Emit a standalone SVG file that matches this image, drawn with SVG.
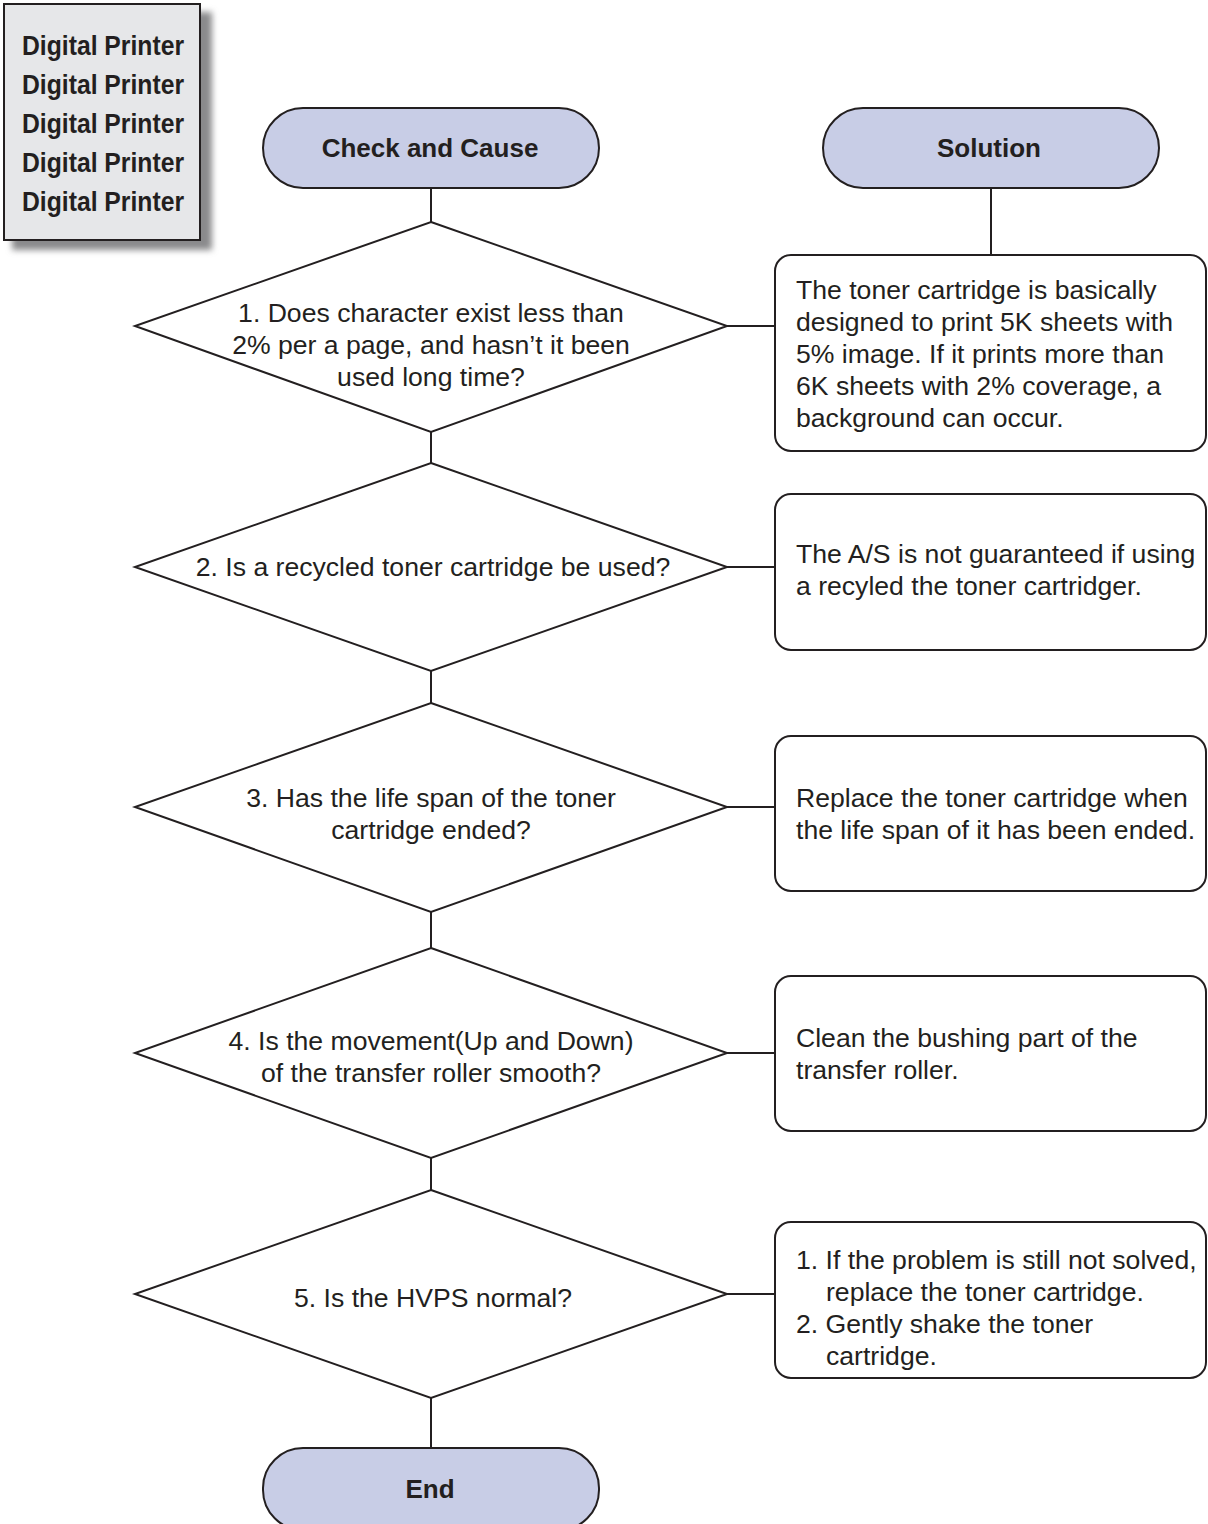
<svg xmlns="http://www.w3.org/2000/svg" width="1208" height="1524" viewBox="0 0 1208 1524">
<defs>
<filter id="blur" x="-20%" y="-20%" width="140%" height="140%"><feGaussianBlur stdDeviation="3"/></filter>
<style>
.ln{stroke:#231f20;stroke-width:2;fill:none}
.pill{fill:#c8cde6;stroke:#231f20;stroke-width:2}
.dia{fill:#fff;stroke:#231f20;stroke-width:2}
.box{fill:#fff;stroke:#231f20;stroke-width:2}
.t{font-family:"Liberation Sans",Arial,sans-serif;font-size:26.6px;fill:#231f20}
.c{text-anchor:middle}
.b{font-weight:bold;font-size:26px}
.dp{font-family:"Liberation Sans",Arial,sans-serif;font-weight:bold;font-size:27px;fill:#231f20}
</style>
</defs>
<rect width="1208" height="1524" fill="#fff"/>
<g id="logo">
<rect x="12" y="12" width="200" height="238" fill="#8a8a8c" filter="url(#blur)"/>
<rect x="4" y="4" width="196" height="236" fill="#e6e7e9" stroke="#231f20" stroke-width="2"/>
<text class="dp" x="22" y="55" textLength="162" lengthAdjust="spacingAndGlyphs">Digital Printer</text>
<text class="dp" x="22" y="94" textLength="162" lengthAdjust="spacingAndGlyphs">Digital Printer</text>
<text class="dp" x="22" y="133" textLength="162" lengthAdjust="spacingAndGlyphs">Digital Printer</text>
<text class="dp" x="22" y="172" textLength="162" lengthAdjust="spacingAndGlyphs">Digital Printer</text>
<text class="dp" x="22" y="211" textLength="162" lengthAdjust="spacingAndGlyphs">Digital Printer</text>
</g>
<g id="connectors">
<line class="ln" x1="431" y1="188" x2="431" y2="222"/>
<line class="ln" x1="991" y1="188" x2="991" y2="255"/>
<line class="ln" x1="727" y1="326" x2="775" y2="326"/>
<line class="ln" x1="431" y1="432" x2="431" y2="463"/>
<line class="ln" x1="727" y1="567" x2="775" y2="567"/>
<line class="ln" x1="431" y1="671" x2="431" y2="703"/>
<line class="ln" x1="727" y1="807" x2="775" y2="807"/>
<line class="ln" x1="431" y1="912" x2="431" y2="948"/>
<line class="ln" x1="727" y1="1053" x2="775" y2="1053"/>
<line class="ln" x1="431" y1="1158" x2="431" y2="1190"/>
<line class="ln" x1="727" y1="1294" x2="775" y2="1294"/>
<line class="ln" x1="431" y1="1398" x2="431" y2="1448"/>
</g>
<g id="start">
<rect class="pill" x="263" y="108" width="336" height="80" rx="40"/>
<text class="t b c" x="430" y="157">Check and Cause</text>
</g>
<g id="solution">
<rect class="pill" x="823" y="108" width="336" height="80" rx="40"/>
<text class="t b c" x="989" y="157">Solution</text>
</g>
<g id="q1">
<polygon class="dia" points="431,222 727,326 431,432 135,326"/>
<text class="t c" x="431" y="322">1. Does character exist less than</text>
<text class="t c" x="431" y="354">2% per a page, and hasn’t it been</text>
<text class="t c" x="431" y="386">used long time?</text>
</g>
<g id="s1">
<rect class="box" x="775" y="255" width="431" height="196" rx="16"/>
<text class="t" x="796" y="299">The toner cartridge is basically</text>
<text class="t" x="796" y="331">designed to print 5K sheets with</text>
<text class="t" x="796" y="363">5% image. If it prints more than</text>
<text class="t" x="796" y="395">6K sheets with 2% coverage, a</text>
<text class="t" x="796" y="427">background can occur.</text>
</g>
<g id="q2">
<polygon class="dia" points="431,463 727,567 431,671 135,567"/>
<text class="t c" x="433" y="576">2. Is a recycled toner cartridge be used?</text>
</g>
<g id="s2">
<rect class="box" x="775" y="494" width="431" height="156" rx="16"/>
<text class="t" x="796" y="563">The A/S is not guaranteed if using</text>
<text class="t" x="796" y="595">a recyled the toner cartridger.</text>
</g>
<g id="q3">
<polygon class="dia" points="431,703 727,807 431,912 135,807"/>
<text class="t c" x="431" y="807">3. Has the life span of the toner</text>
<text class="t c" x="431" y="839">cartridge ended?</text>
</g>
<g id="s3">
<rect class="box" x="775" y="736" width="431" height="155" rx="16"/>
<text class="t" x="796" y="807">Replace the toner cartridge when</text>
<text class="t" x="796" y="839">the life span of it has been ended.</text>
</g>
<g id="q4">
<polygon class="dia" points="431,948 727,1053 431,1158 135,1053"/>
<text class="t c" x="431" y="1050">4. Is the movement(Up and Down)</text>
<text class="t c" x="431" y="1082">of the transfer roller smooth?</text>
</g>
<g id="s4">
<rect class="box" x="775" y="976" width="431" height="155" rx="16"/>
<text class="t" x="796" y="1047">Clean the bushing part of the</text>
<text class="t" x="796" y="1079">transfer roller.</text>
</g>
<g id="q5">
<polygon class="dia" points="431,1190 727,1294 431,1398 135,1294"/>
<text class="t c" x="433" y="1307">5. Is the HVPS normal?</text>
</g>
<g id="s5">
<rect class="box" x="775" y="1222" width="431" height="156" rx="16"/>
<text class="t" x="796" y="1269">1. If the problem is still not solved,</text>
<text class="t" x="826" y="1301">replace the toner cartridge.</text>
<text class="t" x="796" y="1333">2. Gently shake the toner</text>
<text class="t" x="826" y="1365">cartridge.</text>
</g>
<g id="end">
<rect class="pill" x="263" y="1448" width="336" height="82" rx="40"/>
<text class="t b c" x="430" y="1498">End</text>
</g>
</svg>
